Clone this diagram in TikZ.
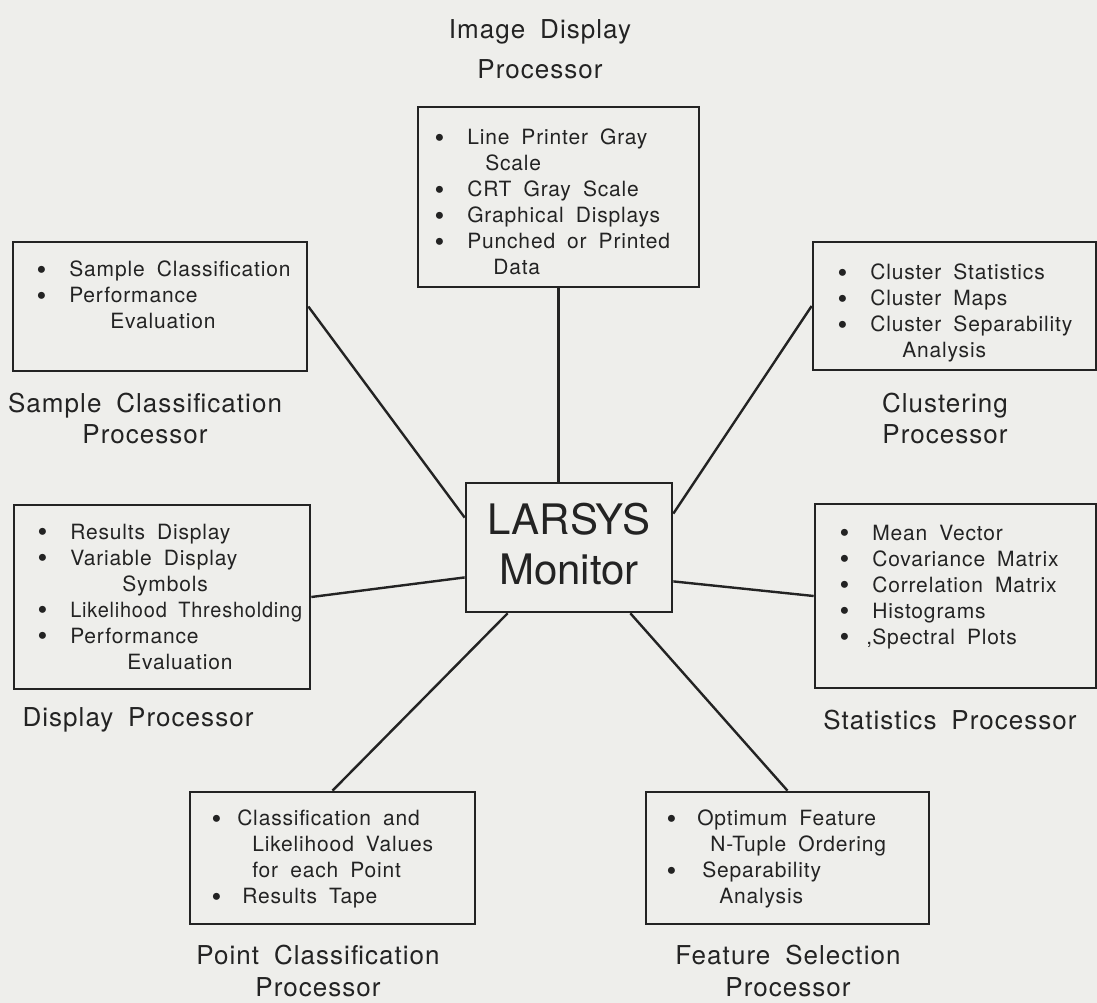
\documentclass[tikz,border=0pt]{standalone}
\usepackage{fontspec}
\setmainfont{TeX Gyre Heros}
\newfontfamily\lettering[LetterSpace=4,WordSpace=1.8]{TeX Gyre Heros}
\newfontfamily\titling[LetterSpace=4,WordSpace=1.8]{TeX Gyre Heros}
\usetikzlibrary{fit}
\definecolor{ink}{RGB}{35,35,35}
\definecolor{paper}{RGB}{238,238,235}
\newlength{\px}\setlength{\px}{0.75pt}
\newcommand{\itm}[1][31]{\makebox[#1\px][l]{\kern-1.2pt\raisebox{-1.6pt}{\fontsize{21}{0}\selectfont\textbullet}}}
\tikzset{
  procbox/.style={draw=ink, line width=2pt, inner sep=0pt, fill=paper},
  items/.style={anchor=north west, inner sep=0pt, align=left, text=ink, font=\lettering\fontsize{15.75}{19.5}\selectfont},
  procname/.style={inner sep=0pt, align=center, text=ink, font=\titling\fontsize{19.5}{23.25}\selectfont},
  link/.style={draw=ink, line width=1.8pt},
}
\begin{document}
\begin{tikzpicture}[x=0.75pt,y=0.75pt,yscale=-1]
\fill[paper] (0,0) rectangle (1097,1003);
\useasboundingbox (0,0) rectangle (1097,1003);

%Shape: Rectangle
\node[procbox, fit={(418,107) (699,287)}] (img) {};
\node[procbox, fit={(13,242) (307,371)}] (samp) {};
\node[procbox, fit={(813,242) (1096,370)}] (clus) {};
\node[procbox, fit={(14,505) (310,689)}] (disp) {};
\node[procbox, fit={(815,504) (1096,688)}] (stat) {};
\node[procbox, fit={(190,792) (475,924)}] (pnt) {};
\node[procbox, fit={(646,792) (929,924)}] (feat) {};
%Shape: Monitor
\node[procbox, fit={(466,483) (672,612)}] (mon) {};

%Straight Lines
\draw[link] (img.south) -- (img.south |- mon.north);
\draw[link] (samp.east) -- (mon.164);
\draw[link] (clus.west) -- (mon.18);
\draw[link] (disp.east) -- (mon.196);
\draw[link] (stat.west) -- (mon.342);
\draw[link] (pnt.north) -- (mon.227);
\draw[link] (feat.north) -- (mon.313);

% Text Node
\node[align=center, text=ink, inner sep=0pt, font=\fontsize{31.5}{37.5}\selectfont] (montxt) at (569,544) {LARSYS\\Monitor};
% Text Node
\node[items] (imgtxt) at (436,129) {\itm Line Printer Gray\\\hspace*{49\px}Scale\\\itm CRT Gray Scale\\\itm Graphical Displays\\\itm Punched or Printed\\\hspace*{57\px}Data};
% Text Node
\node[items] (samptxt) at (38,261) {\itm Sample Classification\\\itm Performance\\\hspace*{72\px}Evaluation};
% Text Node
\node[items] (clustxt) at (839,264) {\itm Cluster Statistics\\\itm Cluster Maps\\\itm Cluster Separability\\\hspace*{63\px}Analysis};
% Text Node
\node[items] (disptxt) at (39,524) {\itm Results Display\\\itm Variable Display\\\hspace*{83\px}Symbols\\\itm\scalebox{0.95}[1]{Likelihood Thresholding}\\\itm Performance\\\hspace*{88\px}Evaluation};
% Text Node
\node[items] (stattxt) at (841,525) {\itm Mean Vector\\\itm Covariance Matrix\\\itm Correlation Matrix\\\itm Histograms\\\itm\llap{,}Spectral Plots};
% Text Node
\node[items] (pnttxt) at (213,810) {\itm[24]Classification and\\\hspace*{39\px}Likelihood Values\\\hspace*{39\px}for each Point\\\itm[29]Results Tape};
% Text Node
\node[items] (feattxt) at (668,810) {\itm[29]Optimum Feature\\\hspace*{42\px}N-Tuple Ordering\\\itm[34]Separability\\\hspace*{51\px}Analysis};

% Text Node
\node[procname] (imgname) at (540,49) {Image Display\\[9\px]Processor};
\node[procname] (sampname) at (145,418) {Sample Classification\\Processor};
\node[procname] (clusname) at (945,418) {Clustering\\Processor};
\node[procname] (dispname) at (138,720) {Display Processor};
\node[procname] (statname) at (950,720) {Statistics Processor};
\node[procname] (pntname) at (318,971) {Point Classification\\[1\px]Processor};
\node[procname] (featname) at (788,971) {Feature Selection\\[1\px]Processor};

\end{tikzpicture}
\end{document}
